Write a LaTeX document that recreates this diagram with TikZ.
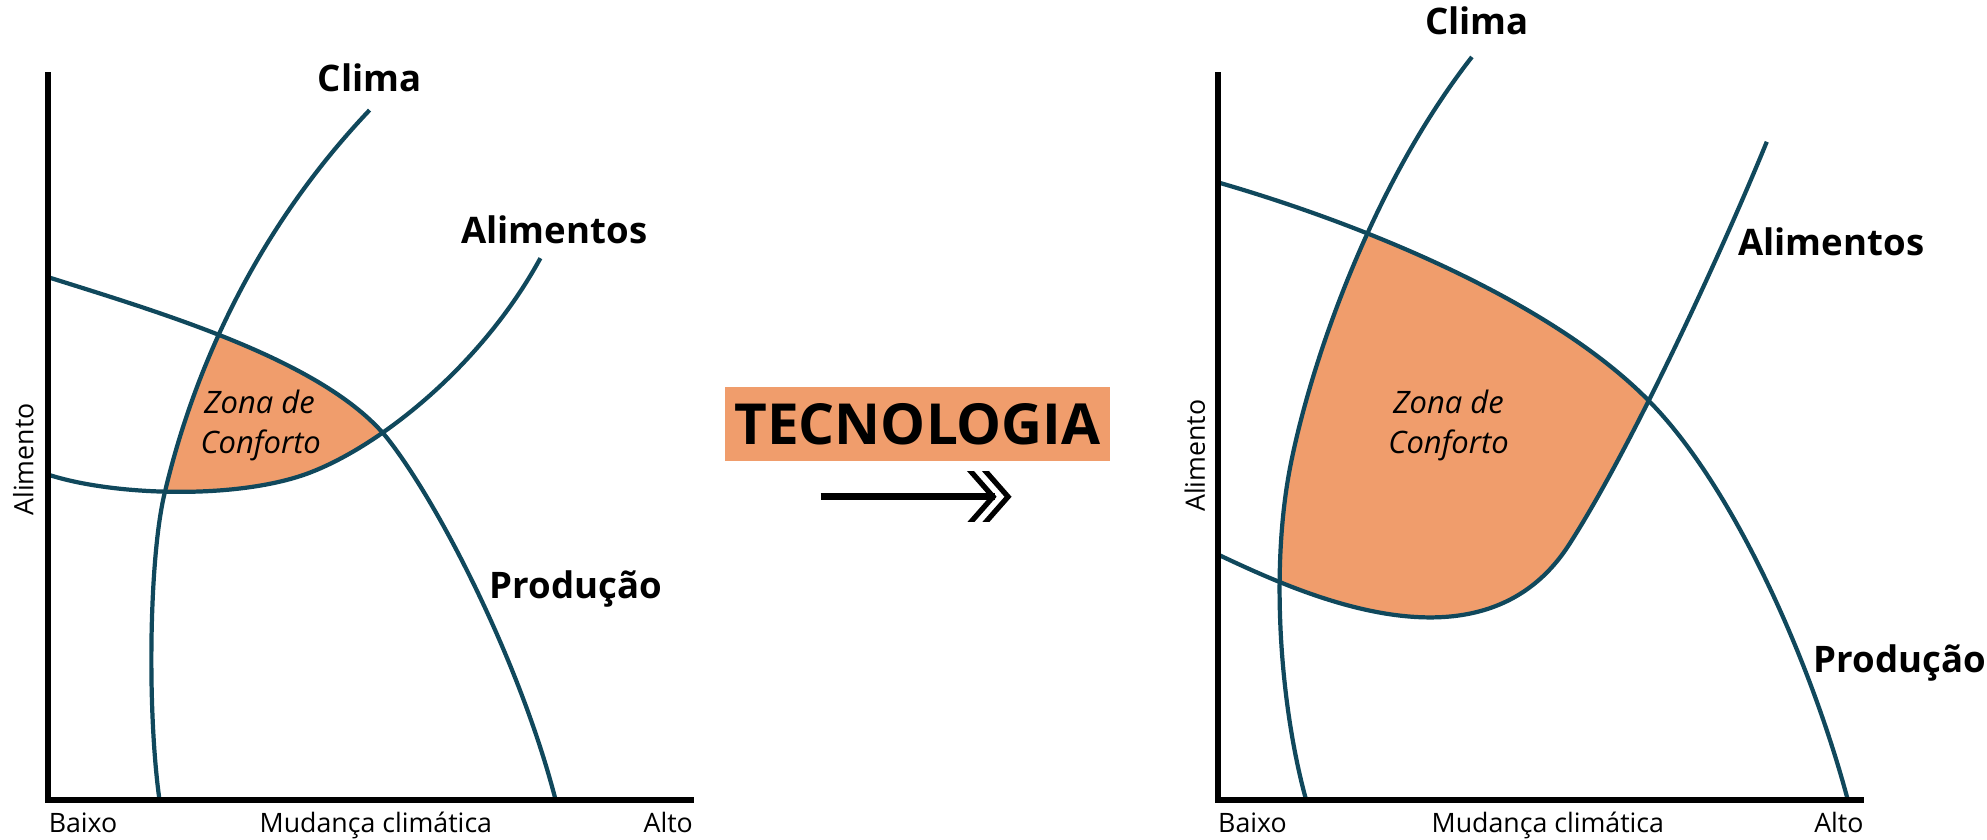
\documentclass[tikz,border=0pt]{standalone}
\usepackage{fontspec}
\setmainfont{Open Sans}
\definecolor{curvecol}{RGB}{16,72,92}
\definecolor{zonecol}{RGB}{240,157,108}
\tikzset{
  curve/.style={draw=curvecol, line width=1.2pt},
  axisline/.style={draw=black, line width=1.7pt, line join=miter},
  curvelabel/.style={font=\fontsize{10.4}{12}\selectfont\bfseries, inner sep=0pt},
  axislabel/.style={font=\fontsize{7.6}{9}\selectfont, inner sep=0pt},
  zonelabel/.style={font=\fontsize{8.8}{10}\selectfont\itshape, inner sep=0pt},
  techbox/.style={fill=zonecol, minimum width=3.85cm, minimum height=0.734cm, inner sep=0pt,
                  font=\fontsize{16.1}{18}\selectfont\bfseries},
  arrowline/.style={draw=black, line width=2.1pt},
  chevron/.style={draw=black, line width=1.5pt, line join=miter},
  climaL/.style={insert path={(126,632) .. controls (116,560) and (118,440) .. (130,390)
                              .. controls (143,335) and (180,205) .. (292,87)}},
  prodL/.style={insert path={(38,219) .. controls (130,248) and (255,285) .. (305,345)
                             .. controls (345,395) and (410,520) .. (439,632)}},
  alimL/.style={insert path={(38,375) .. controls (90,392) and (190,395) .. (246,373)
                             .. controls (300,352) and (380,290) .. (427,204)}},
  climaR/.style={insert path={(1032,632) .. controls (1012,560) and (1003,450) .. (1020,366)
                              .. controls (1037,282) and (1085,145) .. (1163,45)}},
  prodR/.style={insert path={(962,144) .. controls (1080,178) and (1230,240) .. (1306,320)
                             .. controls (1370,387) and (1430,520) .. (1460,632)}},
  alimR/.style={insert path={(962,438) .. controls (1030,470) and (1172,536) .. (1240,430)
                             .. controls (1290,352) and (1360,200) .. (1396,112)}},
}
\begin{document}
\begin{tikzpicture}[x=0.012656cm, y=-0.012656cm]
\useasboundingbox (0,0) rectangle (1570,663.7);

% ---- comfort zones (fills) ----
\begin{scope}
  \clip[prodL] -- (439,700) -- (-50,700) -- (-50,219) -- cycle;
  \clip[climaL] -- (292,-50) -- (800,-50) -- (800,700) -- (126,700) -- cycle;
  \clip[alimL] -- (427,-50) -- (-50,-50) -- (-50,375) -- cycle;
  \fill[zonecol] (0,0) rectangle (785,700);
\end{scope}
\begin{scope}
  \clip[prodR] -- (1460,700) -- (900,700) -- (900,144) -- cycle;
  \clip[climaR] -- (1163,-50) -- (1600,-50) -- (1600,700) -- (1032,700) -- cycle;
  \clip[alimR] -- (1396,-50) -- (900,-50) -- (900,438) -- cycle;
  \fill[zonecol] (785,0) rectangle (1600,700);
\end{scope}

% ---- curves ----
\path[curve, climaL];
\path[curve, prodL];
\path[curve, alimL];
\path[curve, climaR];
\path[curve, prodR];
\path[curve, alimR];

% ---- axes ----
\coordinate (Ltop) at (38,57);
\coordinate (Lorig) at (38,632);
\coordinate (Lend) at (548,632);
\draw[axisline] (Ltop) -- (Lorig) -- (Lend);
\coordinate (Rtop) at (962,57);
\coordinate (Rorig) at (962,632);
\coordinate (Rend) at (1473,632);
\draw[axisline] (Rtop) -- (Rorig) -- (Rend);

% ---- left labels ----
\node[curvelabel, anchor=base] (climaLlab) at (292,72) {Clima};
\node[curvelabel, anchor=base] (alimLlab) at (438,192) {Alimentos};
\node[curvelabel, anchor=base] (prodLlab) at (455,473) {Produção};
\node[zonelabel, anchor=base] (zonaL1) at (205,326.5) {Zona de};
\node[zonelabel, anchor=base] (zonaL2) at (206,358.6) {Conforto};
\node[axislabel, anchor=base west] (baixoL) at (38,658) {Baixo};
\node[axislabel, anchor=base] (mudL) at (297,658) {Mudança climática};
\node[axislabel, anchor=base east] (altoL) at (548,658) {Alto};
\node[axislabel, rotate=90] (alimentoL) at (18.5,363) {Alimento};

% ---- right labels ----
\node[curvelabel, anchor=base] (climaRlab) at (1167,27.5) {Clima};
\node[curvelabel, anchor=base] (alimRlab) at (1447,202) {Alimentos};
\node[curvelabel, anchor=base] (prodRlab) at (1501,531) {Produção};
\node[zonelabel, anchor=base] (zonaR1) at (1144.5,326.5) {Zona de};
\node[zonelabel, anchor=base] (zonaR2) at (1144.5,358) {Conforto};
\node[axislabel, anchor=base west] (baixoR) at (962,658) {Baixo};
\node[axislabel, anchor=base] (mudR) at (1223,658) {Mudança climática};
\node[axislabel, anchor=base east] (altoR) at (1473,658) {Alto};
\node[axislabel, rotate=90] (alimentoR) at (944,360) {Alimento};

% ---- technology box and arrow ----
\node[techbox] (tech) at (725,335) {TECNOLOGIA};
\coordinate (arrS) at (648.4,392.5);
\coordinate (arrE) at (786,392.5);
\coordinate (chevIn) at (784.7,392.5);
\coordinate (chevOut) at (796.5,392.5);
\draw[arrowline] (arrS) -- (arrE);
\begin{scope}
  \clip (740,372.7) rectangle (820,412.2);
  \draw[chevron] ([shift={(-22,-25)}]chevIn) -- (chevIn) -- ([shift={(-22,25)}]chevIn);
  \draw[chevron] ([shift={(-22,-25)}]chevOut) -- (chevOut) -- ([shift={(-22,25)}]chevOut);
\end{scope}
\end{tikzpicture}
\end{document}
